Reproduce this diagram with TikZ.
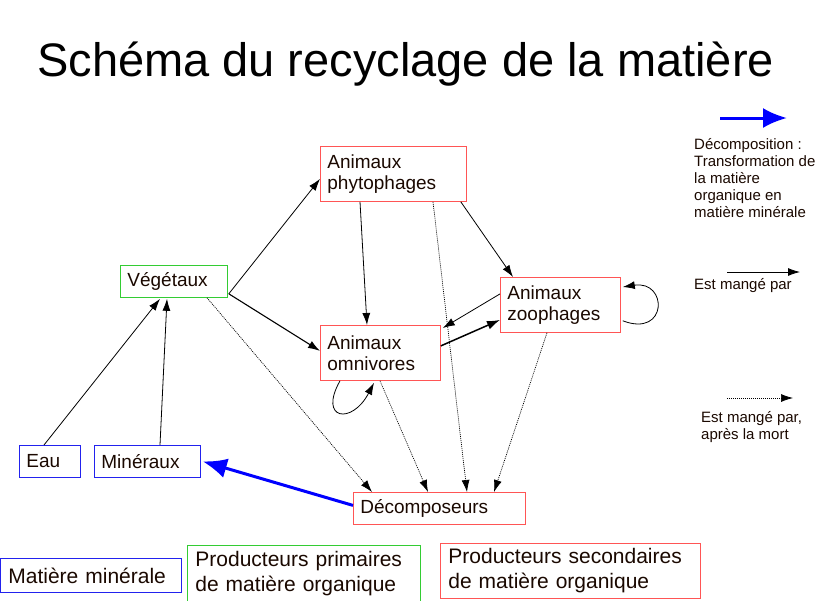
\documentclass[tikz,border=0pt]{standalone}
\usepackage{fontspec}
\setmainfont{Liberation Sans}
\usetikzlibrary{arrows.meta,calc}
\definecolor{boxred}{HTML}{FF5555}
\definecolor{boxblue}{HTML}{2222EE}
\definecolor{boxgreen}{HTML}{33CC33}
\definecolor{txt}{HTML}{1A0800}
\tikzset{
  box/.style={draw, line width=0.8pt, anchor=north west, align=left, inner xsep=7pt, inner ysep=0pt, text=txt, font=\fontsize{19}{21}\selectfont},
  redbox/.style={box, draw=boxred},
  bluebox/.style={box, draw=boxblue},
  greenbox/.style={box, draw=boxgreen},
  legbox/.style={inner xsep=8pt, font=\fontsize{21}{25}\selectfont},
  eat/.style={line width=0.8pt, -{Latex[length=12pt,width=8pt]}},
  eatthick/.style={line width=1.5pt, -{Latex[length=13pt,width=9pt]}},
  dead/.style={line width=0.7pt, dash pattern=on 1pt off 1pt, -{Latex[length=12pt,width=8pt]}},
  decomp/.style={line width=3pt, draw=blue, -{Latex[length=24pt,width=20pt]}, fill=blue},
  legtext/.style={anchor=north west, align=left, text=txt, inner sep=0pt, font=\fontsize{15}{17}\selectfont}
}
\begin{document}
\begin{tikzpicture}[x=1pt,y=-1pt]
\useasboundingbox (0,0) rectangle (833,600);
\node[anchor=base west, text=black, inner sep=0pt, font=\fontsize{47}{50}\selectfont] (title) at (37,76) {Schéma du recyclage de la matière};

\node[redbox, text width=132pt, minimum height=55pt] (phy) at (320,146) {Animaux\\phytophages};
\node[greenbox, text width=93pt, minimum height=32pt] (veg) at (120,265) {Végétaux};
\node[redbox, text width=106pt, minimum height=55pt] (omn) at (320,325) {Animaux\\omnivores};
\node[redbox, text width=106pt, minimum height=55pt] (zoo) at (500,277) {Animaux\\zoophages};
\node[bluebox, text width=47pt, minimum height=32pt] (eau) at (19,445) {Eau};
\node[bluebox, text width=92pt, minimum height=32pt] (min) at (94,445) {Minéraux};
\node[redbox, text width=158pt, minimum height=32pt] (dec) at (353,492) {Décomposeurs};

\node[bluebox, legbox, text width=165pt, minimum height=34pt] (lmin) at (0,558) {Matière minérale};
\node[greenbox, legbox, text width=217pt, minimum height=57pt] (lprim) at (187,545) {Producteurs primaires\\de matière organique};
\node[redbox, legbox, text width=244pt, minimum height=55pt] (lsec) at (440,543) {Producteurs secondaires\\de matière organique};

% food links
\draw[eat] ($(veg.south east)+(1,-4)$) -- ($(phy.west)+(0,5)$);
\draw[eat, line width=1.1pt] ($(veg.south east)+(1,-4)$) -- ($(omn.west)+(0,-2)$);
\draw[eat] ($(phy.south west)+(40,0)$) -- ($(omn.north west)+(47,0)$);
\draw[eat] ($(phy.south east)+(-6,0)$) -- ($(zoo.north west)+(13,0)$);
\draw[eatthick] ($(omn.east)+(0,-7)$) -- ($(zoo.west)+(0,15)$);
\draw[eat] ($(zoo.west)+(0,-11)$) -- ($(omn.north east)+(2,3)$);
\draw[eat] ($(omn.south west)+(20,0)$) .. controls (318,420) and (352,425) .. ($(omn.south west)+(54,2)$);
\draw[eat] ($(zoo.south east)+(2,-12)$) .. controls (668,338) and (668,280) .. ($(zoo.north east)+(2,10)$);
\draw[eat] ($(eau.north west)+(25,0)$) -- ($(veg.south west)+(40,1)$);
\draw[eat] ($(min.north west)+(66,0)$) -- ($(veg.south west)+(47,1)$);

% after death
\draw[dead] ($(veg.south west)+(87,0)$) -- ($(dec.north west)+(19,0)$);
\draw[dead] ($(phy.south west)+(113,0)$) -- ($(dec.north west)+(114,0)$);
\draw[dead] ($(omn.south west)+(60,0)$) -- ($(dec.north west)+(75,0)$);
\draw[dead] ($(zoo.south west)+(47,0)$) -- ($(dec.north west)+(141,0)$);

% decomposition
\draw[decomp] ($(dec.west)+(0,-3)$) -- ($(min.east)+(2,0)$);

% right legend
\coordinate (a1) at (720,118); \coordinate (a2) at (787,118);
\draw[decomp] (a1) -- (a2);
\node[legtext] (t1) at (694,138) {Décomposition :\\Transformation de\\la matière\\organique en\\matière minérale};
\coordinate (b1) at (727,272); \coordinate (b2) at (800,272);
\draw[eat] (b1) -- (b2);
\node[legtext] (t2) at (694,278) {Est mangé par};
\coordinate (c1) at (727,398); \coordinate (c2) at (793,398);
\draw[dead] (c1) -- (c2);
\node[legtext] (t3) at (701,411) {Est mangé par,\\après la mort};
\end{tikzpicture}
\end{document}
